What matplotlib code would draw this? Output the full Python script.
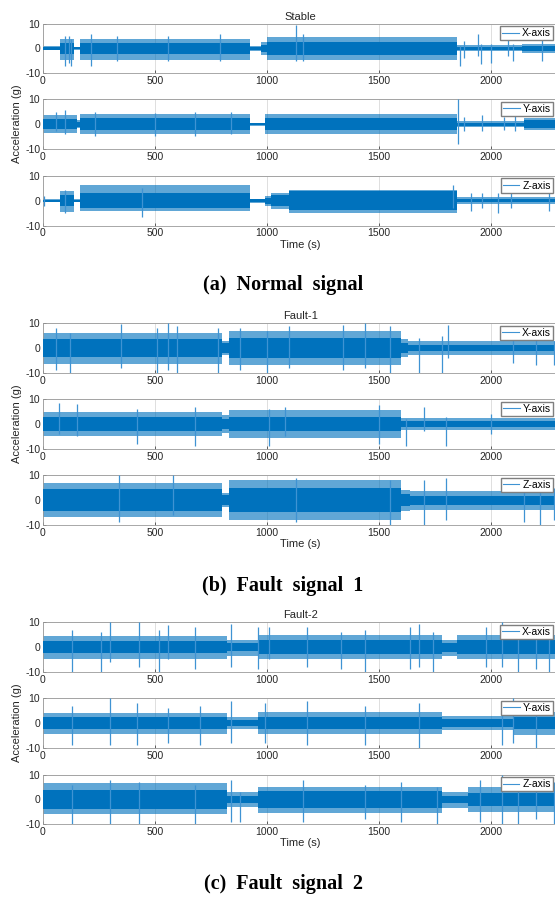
import numpy as np
import matplotlib
matplotlib.use("Agg")
import matplotlib.pyplot as plt
from matplotlib.lines import Line2D

plt.rcParams['font.family'] = ['Liberation Sans', 'DejaVu Sans']
plt.rcParams['axes.unicode_minus'] = False

W, H = 555, 898
BLUE = '#0072BD'
LIGHT = '#3F93D3'

# envelope of each trace:
# breakpoints (s), dense core amplitude, upper / lower fringe, spikes (t, lo, hi)
stable_x_t = [0, 75, 140, 165, 925, 972, 1000, 1850, 2140, 2300]
stable_x_core = [0.5, 2.2, 0.4, 2.3, 0.5, 1.5, 2.8, 0.6, 1.0]
stable_x_hi = [0.8, 4.0, 0.7, 4.0, 0.9, 2.5, 4.5, 1.2, 1.8]
stable_x_lo = [-0.8, -4.5, -0.7, -4.5, -0.9, -2.5, -4.8, -1.2, -1.8]
stable_x_spikes = [(100, -7, 5), (118, -6, 5), (125, -7, 4), (215, -7, 6), (330, -5, 5),
                   (560, -5, 5), (790, -5, 6), (1130, -5, 9.5), (1160, -5, 6), (1862, -7, 1),
                   (1880, -4, 3), (1942, -3, 6), (1958, -6.3, 2), (2000, -6, 2), (2076, -3, 5),
                   (2100, -5, 2), (2230, -5, 4)]

stable_y_t = [0, 150, 165, 925, 990, 1850, 2150, 2300]
stable_y_core = [2.0, 1.0, 2.3, 0.4, 2.3, 0.6, 1.5]
stable_y_hi = [3.5, 1.5, 4.0, 0.6, 4.0, 1.2, 2.3]
stable_y_lo = [-3.5, -1.5, -4.2, -0.6, -4.0, -1.2, -2.3]
stable_y_spikes = [(60, -3, 5), (100, -4, 5.5), (230, -5, 5), (500, -5, 4.5), (680, -5, 5),
                   (840, -4, 5), (1855, -8, 10), (1880, -3, 3), (1960, -3, 3.5), (2060, -2.5, 3),
                   (2110, -3, 4)]

stable_z_t = [0, 75, 140, 165, 925, 990, 1020, 1100, 1850, 2300]
stable_z_core = [0.4, 2.2, 0.4, 3.0, 0.6, 1.2, 2.2, 3.8, 0.7]
stable_z_hi = [0.6, 4.0, 0.6, 6.2, 0.9, 2.0, 3.2, 4.5, 1.5]
stable_z_lo = [-0.6, -4.5, -0.6, -4.2, -0.9, -2.0, -3.2, -5.0, -1.5]
stable_z_spikes = [(5, -2, 2), (100, -5, 4.5), (440, -6.5, 5), (1830, -3, 6.5), (1910, -4, 3),
                   (1960, -3, 3), (2030, -5, 3), (2090, -3, 3.5), (2260, -4, 3)]

fault1_x_t = [0, 800, 830, 1600, 1630, 2300]
fault1_x_core = [3.5, 2.0, 4.0, 2.0, 1.3]
fault1_x_hi = [6, 3, 7, 3.5, 3]
fault1_x_lo = [-6.5, -3, -7, -3.5, -3]
fault1_x_spikes = [(60, -9, 8), (120, -10, 6), (350, -8, 9.8), (510, -10, 8), (560, -9, 10),
                   (600, -10, 9), (780, -10, 8), (880, -9, 8), (1000, -10, 7), (1100, -8, 9),
                   (1340, -9, 9.5), (1440, -8, 10), (1550, -10, 9), (1680, -10, 4), (1780, -10, 5),
                   (1810, -4, 9.5), (2100, -6, 5), (2200, -7, 4), (2280, -7, 3)]

fault1_y_t = [0, 800, 830, 1600, 2300]
fault1_y_core = [2.7, 2.0, 3.0, 1.2]
fault1_y_hi = [5, 3.5, 5.5, 2.5]
fault1_y_lo = [-5, -3.5, -5.5, -2.5]
fault1_y_spikes = [(70, -4, 8.5), (150, -5, 8), (420, -8, 6), (680, -9, 7), (1010, -9, 6),
                   (1080, -5, 7), (1500, -8, 7.5), (1620, -9, 2), (1700, -3, 7), (1800, -9, 3),
                   (2000, -4, 4)]

fault1_z_t = [0, 800, 830, 1600, 1640, 2300]
fault1_z_core = [4.3, 2.0, 4.8, 2.5, 1.8]
fault1_z_hi = [7, 3, 8, 4, 3.5]
fault1_z_lo = [-7, -3, -8, -4.5, -4]
fault1_z_spikes = [(340, -9, 10), (580, -6, 10), (1130, -9, 9), (1550, -10, 8), (1700, -10, 8),
                   (1800, -8, 9), (2150, -9, 7), (2220, -10, 6), (2280, -8, 5)]

fault2_x_t = [0, 820, 960, 1780, 1850, 2300]
fault2_x_core = [2.5, 1.5, 3.0, 1.8, 3.0]
fault2_x_hi = [4.5, 3, 5, 3, 5]
fault2_x_lo = [-5, -3.5, -5, -3.5, -5]
fault2_x_spikes = [(130, -10, 7), (260, -10, 6), (300, -6, 10), (430, -8, 10), (520, -10, 7),
                   (560, -5, 9), (680, -9, 8), (840, -8, 9.5), (960, -9, 8), (1010, -5, 8),
                   (1180, -8, 8), (1330, -9, 6), (1440, -10, 7), (1640, -9, 8), (1680, -8, 9.5),
                   (1740, -10, 6), (1980, -8, 8), (2050, -8, 10), (2120, -10, 9), (2200, -9, 8),
                   (2260, -10, 7)]

fault2_y_t = [0, 820, 960, 1780, 2100, 2300]
fault2_y_core = [2.3, 1.2, 2.5, 1.5, 2.5]
fault2_y_hi = [4, 2.5, 4.5, 3, 4.5]
fault2_y_lo = [-4.5, -2.5, -4.5, -3, -5]
fault2_y_spikes = [(130, -9, 7), (300, -9, 10), (420, -9, 8), (560, -8, 6), (700, -9, 7),
                   (840, -8, 9), (990, -8, 8), (1180, -9, 9), (1440, -9, 7), (1680, -10, 8),
                   (2050, -9, 9), (2100, -8, 10), (2200, -10, 8)]

fault2_z_t = [0, 820, 960, 1780, 1900, 2300]
fault2_z_core = [3.8, 1.5, 3.3, 1.5, 2.5]
fault2_z_hi = [6.5, 3, 5, 3, 5]
fault2_z_lo = [-6, -3, -5.5, -3.5, -5]
fault2_z_spikes = [(130, -10, 6), (300, -10, 8), (430, -10, 7), (680, -10, 6), (840, -9, 8),
                   (880, -9, 3), (1160, -9, 8), (1440, -8, 6), (1600, -9, 7), (1760, -10, 5),
                   (1950, -9, 8), (2050, -10, 10), (2120, -10, 9), (2200, -8, 8), (2280, -10, 7)]

groups = [
    ("Stable", "(a)  Normal  signal", [
        (stable_x_t, stable_x_core, stable_x_hi, stable_x_lo, stable_x_spikes),
        (stable_y_t, stable_y_core, stable_y_hi, stable_y_lo, stable_y_spikes),
        (stable_z_t, stable_z_core, stable_z_hi, stable_z_lo, stable_z_spikes)]),
    ("Fault-1", "(b)  Fault  signal  1", [
        (fault1_x_t, fault1_x_core, fault1_x_hi, fault1_x_lo, fault1_x_spikes),
        (fault1_y_t, fault1_y_core, fault1_y_hi, fault1_y_lo, fault1_y_spikes),
        (fault1_z_t, fault1_z_core, fault1_z_hi, fault1_z_lo, fault1_z_spikes)]),
    ("Fault-2", "(c)  Fault  signal  2", [
        (fault2_x_t, fault2_x_core, fault2_x_hi, fault2_x_lo, fault2_x_spikes),
        (fault2_y_t, fault2_y_core, fault2_y_hi, fault2_y_lo, fault2_y_spikes),
        (fault2_z_t, fault2_z_core, fault2_z_hi, fault2_z_lo, fault2_z_spikes)]),
]
axis_names = ["X-axis", "Y-axis", "Z-axis"]
x_ticks = [0, 500, 1000, 1500, 2000]
y_ticks = [-10, 0, 10]

# pixel tops of the axes (y = 10 line) and caption rows
axes_tops = [[23.7, 99.3, 176.0], [323.3, 399.3, 475.3], [622.3, 698.3, 774.7]]
caption_y = [285, 586, 884]
AX_H = 49.5
AX_L, AX_R = 43, 558


def fx(px):
    return px / W


def fy(py):
    return 1 - py / H


def step_vals(v):
    return np.r_[v, v[-1]]


fig = plt.figure(figsize=(W / 100, H / 100), dpi=100)

for g, (title, caption, traces) in enumerate(groups):
    for i, (t, core, hi, lo, spikes) in enumerate(traces):
        top = axes_tops[g][i]
        ax = fig.add_axes([fx(AX_L), fy(top + AX_H), fx(AX_R - AX_L), AX_H / H])
        t = np.asarray(t, float)
        ax.fill_between(t, step_vals(lo), step_vals(hi), step='post', color=BLUE,
                        alpha=0.62, lw=0, zorder=2)
        c = step_vals(np.asarray(core, float))
        ax.fill_between(t, -c, c, step='post', color=BLUE, lw=0, zorder=3)
        st = [s[0] for s in spikes]
        ax.vlines(st, [s[1] for s in spikes], [s[2] for s in spikes], color=LIGHT,
                  lw=0.9, zorder=4)

        ax.set_xlim(0, 2300)
        ax.set_ylim(-10, 10)
        ax.set_xticks(x_ticks)
        ax.set_yticks(y_ticks)
        ax.grid(True, color='#d9d9d9', lw=0.6, zorder=0)
        ax.set_axisbelow(True)
        ax.tick_params(direction='in', length=2.5, width=0.5, labelsize=7.5,
                       colors='#262626', pad=2)
        for sp in ax.spines.values():
            sp.set_color('#9a9a9a')
            sp.set_linewidth(0.6)

        h = Line2D([], [], color=LIGHT, lw=0.8)
        ax.legend([h], [axis_names[i]], loc='upper right',
                  bbox_to_anchor=(fx(553), fy(top + 2.5)), bbox_transform=fig.transFigure,
                  fontsize=7.5, frameon=True, fancybox=False, edgecolor='#7f7f7f',
                  framealpha=1, borderpad=0.2, handlelength=1.6, handletextpad=0.3,
                  borderaxespad=0)

        if i == 0:
            ax.set_title(title, fontsize=8, pad=3, color='#262626')
        if i == 1:
            ax.set_ylabel("Acceleration (g)", fontsize=8, color='#262626', labelpad=2)
        if i == 2:
            ax.set_xlabel("Time (s)", fontsize=8, color='#262626', labelpad=1)

    fig.text(fx(283), fy(caption_y[g]), caption, ha='center', va='center',
             fontsize=14.5, fontweight='bold', family=['Liberation Serif', 'DejaVu Serif'])

fig.savefig("out.png", dpi=100)
